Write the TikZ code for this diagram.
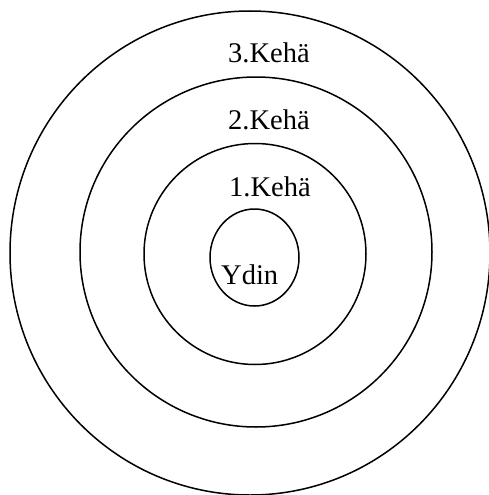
\documentclass[tikz,border=0pt]{standalone}
\usepackage{fontspec}
\setmainfont{Liberation Serif}
\usetikzlibrary{shapes.geometric}

\begin{document}
\begin{tikzpicture}[
    x=1pt, y=-1pt,
    ring/.style={draw, ellipse, line width=1.5pt, inner sep=0pt},
    label/.style={anchor=base west, inner sep=0pt, font=\fontsize{28.5}{30}\selectfont}
]
\useasboundingbox (0,0) rectangle (489,495);
% rings from outside in
\node[ring, minimum width=480, minimum height=484] (ring3) at (250,253) {};
\node[ring, minimum width=352, minimum height=350] (ring2) at (256,252) {};
\node[ring, minimum width=222, minimum height=221] (ring1) at (255,254) {};
\node[ring, minimum width=89, minimum height=97] (core) at (254.5,257.5) {};
% labels
\node[label] (lab3) at (228,63) {3.Kehä};
\node[label] (lab2) at (228,129) {2.Kehä};
\node[label] (lab1) at (229,196) {1.Kehä};
\node[label] (labcore) at (221,284) {Ydin};
\end{tikzpicture}
\end{document}
